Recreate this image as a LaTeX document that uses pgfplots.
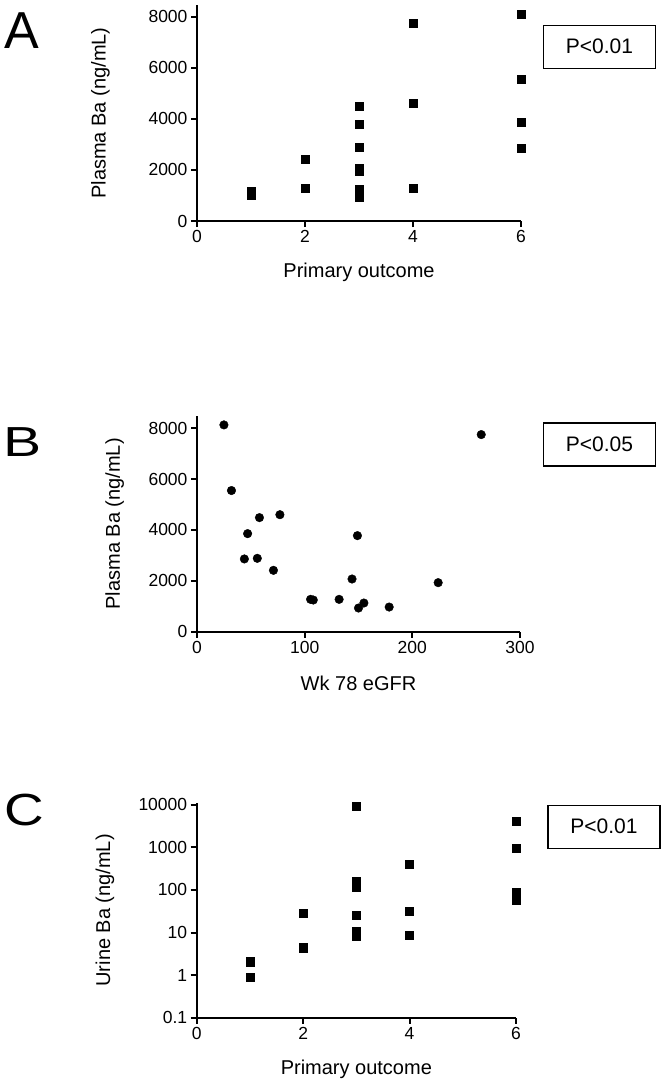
\documentclass[border=0pt]{standalone}
\usepackage{fontspec}
\setmainfont{Liberation Sans}
\usepackage{pgfplots}
\pgfplotsset{compat=1.18}
\newcommand\fs[1]{\fontsize{#1}{#1}\selectfont}
\pgfplotsset{
  panel/.style={
    scale only axis, clip=false,
    axis lines=left, axis line style={-, line width=2.4pt, black},
    tick align=outside, tick pos=left, major tick length=6pt,
    tick style={line width=2pt, black},
    /pgf/number format/assume math mode=true,
    /pgf/number format/1000 sep={},
    scaled ticks=false,
    ticklabel style={font=\fs{17.5}},
    label style={font=\fs{20}},
    xlabel style={at={(axis description cs:0.5,0)}, anchor=base},
    ylabel style={anchor=center},
  }
}
\begin{document}
\begin{tikzpicture}
\useasboundingbox (0,0) rectangle (666pt,-1086pt);
% Panel A
\begin{axis}[panel,
  at={(197pt,-221pt)}, anchor=south west, width=324pt, height=216pt,
  xmin=0, xmax=6, ymin=0, ymax=8450,
  xtick={0,2,4,6}, ytick={0,2000,4000,6000,8000},
  xlabel={Primary outcome}, ylabel={Plasma Ba (ng/mL)},
  xlabel style={yshift=-56pt},
  ylabel style={at={(axis description cs:-0.298,0.5)}},
]
\addplot[only marks, mark=square*, mark size=4pt, black] coordinates {
 (1,1150) (1,1000)
 (2,2420) (2,1280)
 (3,4490) (3,3770) (3,2870) (3,2050) (3,1950) (3,1260) (3,1100) (3,950)
 (4,7750) (4,4600) (4,1270)
 (6,8100) (6,5530) (6,3850) (6,2830)
};
\end{axis}
% Panel B
\begin{axis}[panel,
  at={(197pt,-631.7pt)}, anchor=south west, width=323pt, height=215.7pt,
  xmin=0, xmax=300, ymin=0, ymax=8480,
  xtick={0,100,200,300}, ytick={0,2000,4000,6000,8000},
  xlabel={Wk 78 eGFR}, ylabel={Plasma Ba (ng/mL)},
  xlabel style={yshift=-59pt},
  ylabel style={at={(axis description cs:-0.255,0.5)}},
]
\addplot[only marks, mark=*, mark size=4.3pt, black] coordinates {
 (25,8130) (32,5550) (58,4485) (77,4600) (47,3856) (44,2860) (56,2885)
 (71,2413) (149,3777) (144,2072) (224,1928) (264,7750) (105.5,1272)
 (108,1246) (132,1272) (150,931) (155,1128) (178.5,970)
};
\end{axis}
% Panel C
\begin{axis}[panel,
  at={(196.7pt,-1017.7pt)}, anchor=south west, width=319.3pt, height=214.7pt,
  xmin=0, xmax=6, ymode=log, ymin=0.1, ymax=11000,
  xtick={0,2,4,6}, ytick={0.1,1,10,100,1000,10000},
  yticklabels={0.1,1,10,100,1000,10000}, yminorticks=false,
  xlabel={Primary outcome}, ylabel={Urine Ba (ng/mL)},
  xlabel style={yshift=-57pt},
  ylabel style={at={(axis description cs:-0.287,0.5)}},
]
\addplot[only marks, mark=square*, mark size=4.1pt, black] coordinates {
 (1,2.07) (1,0.89)
 (2,27.9) (2,4.4)
 (3,9140) (3,157) (3,135) (3,114) (3,25) (3,10.5) (3,8.3)
 (4,403) (4,32) (4,8.5)
 (6,4130) (6,975) (6,90) (6,70) (6,57)
};
\end{axis}
% panel letters
\node[inner sep=0, font=\fs{52}] at (21.5pt,-30.5pt) {A};
\node[inner sep=0, font=\fs{42}, xscale=1.36] at (22.5pt,-442.3pt) {B};
\node[inner sep=0, font=\fs{45}, xscale=1.22] at (24.2pt,-809.8pt) {C};
% P boxes
\tikzset{pbox/.style={draw, line width=1.3pt, minimum width=112pt, minimum height=43pt, inner sep=0, font=\fs{21}}}
\node[pbox] at (599.5pt,-46.7pt) {P<0.01};
\node[pbox] at (599.5pt,-444.5pt) {P<0.05};
\node[pbox] at (604pt,-826.7pt) {P<0.01};
\end{tikzpicture}
\end{document}
